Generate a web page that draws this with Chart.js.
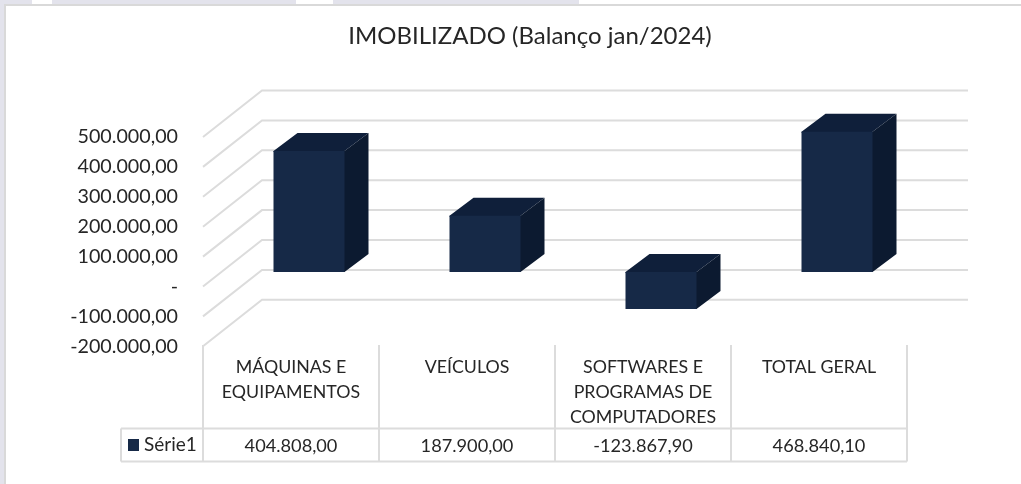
<!DOCTYPE html>
<html lang="pt-BR">
<head>
<meta charset="utf-8">
<title>IMOBILIZADO</title>
<script src="https://cdn.jsdelivr.net/npm/chart.js@4"></script>
<style>
  html, body { margin: 0; padding: 0; background: #fff; }
  #frame { position: relative; width: 1021px; height: 484px; overflow: hidden; }
  #frame div { position: absolute; }
  canvas { position: absolute; left: 0; top: 0; }
</style>
</head>
<body>
<div id="frame">
  <div style="left:0;top:0;width:4px;height:484px;background:#e3e3ec"></div>
  <div style="left:0;top:0;width:32px;height:4px;background:#e3e3ec"></div>
  <div style="left:52px;top:0;width:244px;height:4px;background:#e3e3ec"></div>
  <div style="left:333px;top:0;width:246px;height:4px;background:#e3e3ec"></div>
  <div style="left:4px;top:4px;width:1017px;height:2px;background:#d9d9d9"></div>
  <div style="left:4px;top:4px;width:2px;height:480px;background:#d9d9d9"></div>
  <canvas id="chart" width="1021" height="484"></canvas>
</div>
<script>
const chartTitle = 'IMOBILIZADO (Balanço jan/2024)';
const seriesName = 'Série1';
const categories = [
  ['MÁQUINAS E', 'EQUIPAMENTOS'],
  ['VEÍCULOS'],
  ['SOFTWARES E', 'PROGRAMAS DE', 'COMPUTADORES'],
  ['TOTAL GERAL'],
];
const values = [404808.0, 187900.0, -123867.9, 468840.1];
const tickMin = -200000;
const tickMax = 500000;
const tickStep = 100000;

const FONT = 'Lato, sans-serif';
const TEXT = '#262626';
const GRID = '#dcdcdc';
const FRONT = '#162947';
const TOP_FACE = '#0f1f3a';
const SIDE_FACE = '#0c1a30';

// how far the floor/back planes sit from the plane the bars stand on
const BAR_DEPTH = { x: 24, y: -18 };
const WALL = { front: { x: -18, y: 14.5 }, back: { x: 41, y: -32 }, right: 968 };

function money(v) {
  if (v === 0) return '-';
  return v.toLocaleString('pt-BR', { minimumFractionDigits: 2, maximumFractionDigits: 2 });
}

// pseudo 3D: slanted gridlines and the side/top faces behind each bar
const walls3d = {
  id: 'walls3d',
  afterLayout(chart) {
    // title is centred over the plot + depth, not over the whole box
    chart.titleBlock.left = 39;
    chart.titleBlock.right = 1021;
  },
  beforeDatasetsDraw(chart) {
    const { ctx, chartArea, scales } = chart;
    ctx.save();
    ctx.strokeStyle = GRID;
    ctx.lineWidth = 2;
    scales.y.ticks.forEach((t) => {
      const y = scales.y.getPixelForValue(t.value);
      ctx.beginPath();
      ctx.moveTo(chartArea.left + WALL.front.x, y + WALL.front.y);
      ctx.lineTo(chartArea.left + WALL.back.x, y + WALL.back.y);
      ctx.lineTo(WALL.right, y + WALL.back.y);
      ctx.stroke();
    });
    chart.getDatasetMeta(0).data.forEach((bar) => {
      const { x, y, base, width } = bar.getProps(['x', 'y', 'base', 'width']);
      const l = x - width / 2;
      const r = x + width / 2;
      const top = Math.min(y, base);
      const bottom = Math.max(y, base);
      // faces run 1px under the front so no seam shows at the edges
      ctx.fillStyle = TOP_FACE;
      ctx.beginPath();
      ctx.moveTo(l, top + 1);
      ctx.lineTo(l, top);
      ctx.lineTo(l + BAR_DEPTH.x, top + BAR_DEPTH.y);
      ctx.lineTo(r + BAR_DEPTH.x, top + BAR_DEPTH.y);
      ctx.lineTo(r, top);
      ctx.lineTo(r, top + 1);
      ctx.fill();
      ctx.fillStyle = SIDE_FACE;
      ctx.beginPath();
      ctx.moveTo(r - 1, top);
      ctx.lineTo(r, top);
      ctx.lineTo(r + BAR_DEPTH.x, top + BAR_DEPTH.y);
      ctx.lineTo(r + BAR_DEPTH.x, bottom + BAR_DEPTH.y);
      ctx.lineTo(r, bottom);
      ctx.lineTo(r - 1, bottom);
      ctx.fill();
    });
    ctx.restore();
  },
  // data table under the plot
  afterDraw(chart) {
    const { ctx, chartArea, scales } = chart;
    const colW = chartArea.width / categories.length;
    const left = chartArea.left + WALL.front.x;
    const topY = 345;
    const rowY = 428.5;
    const endY = 461.5;
    const tableLeft = 121;
    ctx.save();
    ctx.strokeStyle = GRID;
    ctx.lineWidth = 2;
    for (let i = 0; i <= categories.length; i++) {
      ctx.beginPath();
      ctx.moveTo(left + i * colW, topY);
      ctx.lineTo(left + i * colW, endY);
      ctx.stroke();
    }
    ctx.beginPath();
    ctx.moveTo(tableLeft, rowY);
    ctx.lineTo(left + categories.length * colW, rowY);
    ctx.moveTo(tableLeft, endY);
    ctx.lineTo(left + categories.length * colW, endY);
    ctx.moveTo(tableLeft, rowY);
    ctx.lineTo(tableLeft, endY);
    ctx.stroke();
    ctx.fillStyle = FRONT;
    ctx.fillRect(128, 439, 11, 12);
    ctx.fillStyle = TEXT;
    ctx.textBaseline = 'middle';
    ctx.textAlign = 'left';
    ctx.font = '19px ' + FONT;
    ctx.fillText(seriesName, 144, 445);
    ctx.textAlign = 'center';
    ctx.font = '18.2px ' + FONT;
    values.forEach((v, i) => {
      ctx.fillText(money(v), scales.x.getPixelForValue(i) + WALL.front.x, 446);
    });
    ctx.restore();
  },
};

new Chart(document.getElementById('chart'), {
  type: 'bar',
  data: {
    labels: categories,
    datasets: [
      {
        label: seriesName,
        data: values,
        backgroundColor: FRONT,
        barPercentage: 71 / 176,
        categoryPercentage: 1,
      },
    ],
  },
  options: {
    responsive: false,
    animation: false,
    layout: { padding: { left: 0, right: 96, top: 0, bottom: 0 } },
    plugins: {
      legend: { display: false },
      tooltip: { enabled: false },
      title: {
        display: true,
        text: chartTitle,
        color: TEXT,
        font: { family: FONT, size: 24, weight: 'normal', lineHeight: 1.2 },
        padding: { top: 21.6, bottom: 72.1 },
      },
    },
    scales: {
      x: {
        grid: { display: false, drawTicks: false },
        border: { display: false },
        afterFit(scale) { scale.height = 152.2; },
        ticks: {
          color: TEXT,
          font: { family: FONT, size: 17.8, lineHeight: 25 / 17.8 },
          labelOffset: WALL.front.x,
          padding: 22.5,
          maxRotation: 0,
          autoSkip: false,
        },
      },
      y: {
        min: tickMin,
        max: tickMax,
        grid: { display: false, drawTicks: false },
        border: { display: false },
        afterFit(scale) { scale.width = 221; },
        ticks: {
          stepSize: tickStep,
          color: TEXT,
          font: { family: FONT, size: 19.7 },
          labelOffset: WALL.front.y,
          padding: 43,
          callback: (v) => money(v),
        },
      },
    },
  },
  plugins: [walls3d],
});
</script>
</body>
</html>
